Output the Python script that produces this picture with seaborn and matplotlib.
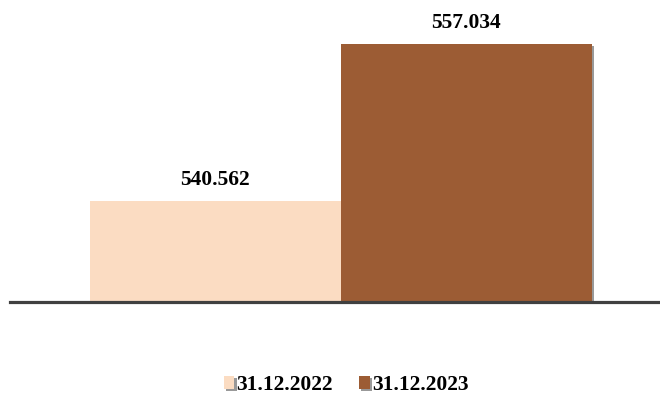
import matplotlib
matplotlib.use("Agg")
import matplotlib.pyplot as plt
import matplotlib.patheffects as pe
import pandas as pd
import seaborn as sns

# DATA
dates = ["31.12.2022", "31.12.2023"]
values = [540562, 557034]
bar_colors = ["#FBDCC2", "#9C5C34"]

df = pd.DataFrame({"group": ["A", "A"], "date": dates, "value": values})

sns.set_style("white")
plt.rcParams["font.family"] = ["Liberation Serif", "DejaVu Serif"]
plt.rcParams["text.color"] = "black"

fig = plt.figure(figsize=(6.6, 4.01), dpi=100)
ax = fig.add_axes([10 / 660, 99 / 401, 650 / 660, 286 / 401])

sns.barplot(data=df, x="group", y="value", hue="date", palette=bar_colors,
            width=0.772, ax=ax, saturation=1, edgecolor="none", legend=True)

for p in ax.patches:
    p.set_path_effects([pe.SimplePatchShadow(offset=(1.5, -1.5), shadow_rgbFace="#555555", alpha=0.6),
                        pe.Normal()])

for cont in ax.containers:
    labels = [f"{v:,.0f}".replace(",", ".") for v in cont.datavalues]
    ax.bar_label(cont, labels=labels, padding=8, fontsize=15.5, fontweight="bold", color="black")

ax.set_ylim(530000, 560000)
ax.set_xlim(-0.509, 0.491)
ax.set_xticks([])
ax.set_yticks([])
ax.set_xlabel("")
ax.set_ylabel("")
for s in ["top", "right", "left"]:
    ax.spines[s].set_visible(False)
ax.spines["bottom"].set_color("#404040")
ax.spines["bottom"].set_linewidth(2.3)

leg = ax.legend(loc="center", bbox_to_anchor=(346 / 660, 16 / 401), bbox_transform=fig.transFigure,
                ncol=2, frameon=False, handlelength=0.5, handleheight=0.6, handletextpad=0.1,
                columnspacing=1.2, prop={"size": 15.5, "weight": "bold"})
for t in leg.get_texts():
    t.set_color("black")

fig.savefig("out.png", dpi=100)
